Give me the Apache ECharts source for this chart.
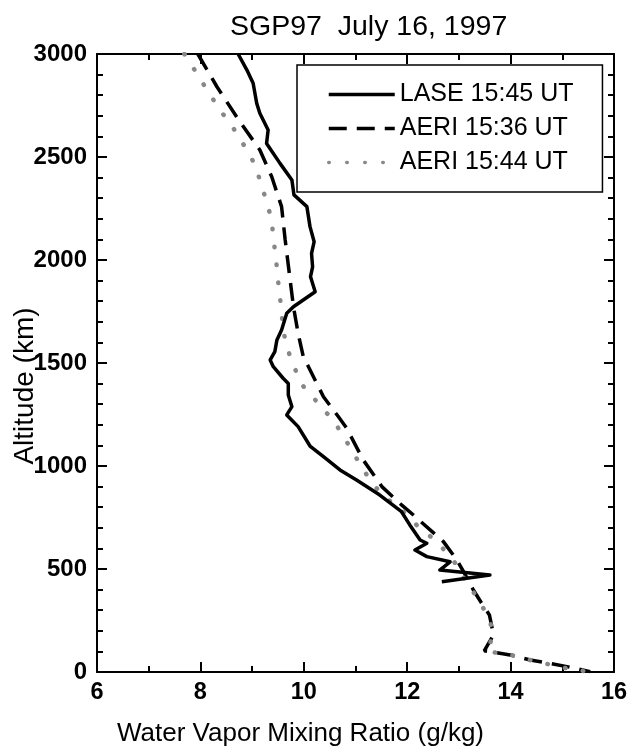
<!DOCTYPE html>
<html>
<head>
<meta charset="utf-8">
<script src="https://cdn.jsdelivr.net/npm/echarts@6/dist/echarts.min.js"></script>
<style>
html, body { margin: 0; padding: 0; background: #fff; }
#main { width: 629px; height: 748px; }
</style>
</head>
<body>
<div id="main"></div>
<script>
// values: mixing ratio (g/kg) vs altitude
var laseX = [8.73, 8.90, 9.02, 9.09, 9.15, 9.31, 9.28, 9.54, 9.77, 9.81, 10.06, 10.12, 10.20, 10.15, 10.17, 10.13, 10.22, 9.80, 9.67, 9.57, 9.48, 9.44, 9.35, 9.41, 9.60, 9.70, 9.70, 9.77, 9.67, 9.89, 10.12, 10.38, 10.70, 11.02, 11.47, 11.89, 12.05, 12.25, 12.38, 12.15, 12.38, 12.83, 12.63, 13.60, 12.67];
var laseAlt = [3000, 2922, 2858, 2760, 2712, 2631, 2566, 2469, 2388, 2316, 2259, 2162, 2089, 2032, 1967, 1919, 1846, 1773, 1741, 1660, 1612, 1555, 1515, 1482, 1426, 1401, 1345, 1288, 1248, 1191, 1097, 1045, 981, 932, 859, 778, 714, 641, 625, 592, 560, 535, 495, 471, 438];

var aeri36X = [7.95, 8.32, 8.70, 9.15, 9.38, 9.57, 9.64, 9.72, 9.80, 9.89, 9.99, 10.09, 10.38, 10.67, 10.83, 11.15, 11.51, 11.89, 12.12, 12.70, 12.96, 13.09, 13.28, 13.44, 13.59, 13.67, 13.49, 13.99, 14.38, 14.76, 15.15, 15.54];
var aeri36Alt = [3000, 2841, 2695, 2534, 2404, 2259, 2097, 1935, 1773, 1644, 1531, 1482, 1336, 1239, 1183, 1029, 900, 811, 762, 633, 544, 487, 398, 334, 277, 180, 103, 83, 58, 42, 23, 2];

var aeri44X = [7.69, 7.93, 8.15, 8.38, 8.64, 8.86, 9.06, 9.17, 9.28, 9.38, 9.41, 9.46, 9.49, 9.53, 9.57, 9.60, 9.68, 9.81, 9.97, 10.28, 10.59, 10.81, 11.02, 11.24, 11.51, 11.86, 12.18, 12.57, 12.89, 13.12, 13.34, 13.57, 13.67, 13.55, 14.00, 14.34, 15.06, 15.48];
var aeri44Alt = [3000, 2906, 2817, 2728, 2639, 2550, 2461, 2372, 2283, 2194, 2105, 2016, 1927, 1838, 1749, 1660, 1571, 1482, 1393, 1304, 1215, 1126, 1037, 948, 859, 795, 714, 633, 544, 447, 366, 268, 188, 100, 83, 60, 19, 2];

var seriesNames = ['LASE 15:45 UT', 'AERI 15:36 UT', 'AERI 15:44 UT'];

function pairs(xs, ys) {
    var out = [];
    for (var i = 0; i < xs.length; i++) out.push([xs[i], ys[i]]);
    return out;
}

var font = 'Liberation Sans, Arial, sans-serif';
var tickLine = { color: '#000', width: 2 };

var myChart = echarts.init(document.getElementById('main'));
var option = {
    animation: false,
    backgroundColor: '#fff',
    title: {
        text: 'SGP97  July 16, 1997',
        left: 225,
        top: 8,
        textStyle: { fontFamily: font, fontSize: 28.5, fontWeight: 'normal', color: '#000' }
    },
    legend: {
        orient: 'vertical',
        left: 297,
        top: 65,
        padding: [17, 29, 17, 30],
        itemWidth: 66,
        itemHeight: 25,
        itemGap: 9,
        borderColor: '#000',
        borderWidth: 1.5,
        borderRadius: 0,
        backgroundColor: '#fff',
        itemStyle: { opacity: 0 },
        lineStyle: { width: 3.5 },
        textStyle: { fontFamily: font, fontSize: 25, color: '#000' },
        data: seriesNames
    },
    grid: {
        left: 97,
        right: 15,
        top: 54,
        bottom: 76,
        containLabel: false,
        outerBoundsMode: 'none'
    },
    xAxis: [{
        type: 'value',
        min: 6,
        max: 16,
        interval: 2,
        name: 'Water Vapor Mixing Ratio (g/kg)',
        nameLocation: 'middle',
        nameGap: 49,
        nameMoveOverlap: false,
        nameTextStyle: { fontFamily: font, fontSize: 26, color: '#000', padding: [0, 110, 0, 0] },
        axisLine: { onZero: false, lineStyle: tickLine },
        axisTick: { inside: true, length: 10, lineStyle: tickLine },
        minorTick: { show: true, splitNumber: 2, length: 6, lineStyle: tickLine },
        axisLabel: { fontFamily: font, fontSize: 23.5, fontWeight: 'bold', color: '#000', margin: 9 },
        splitLine: { show: false }
    }, {
        type: 'value',
        position: 'top',
        min: 6,
        max: 16,
        interval: 2,
        axisLine: { onZero: false, lineStyle: tickLine },
        axisTick: { inside: true, length: 10, lineStyle: tickLine },
        minorTick: { show: true, splitNumber: 2, length: 6, lineStyle: tickLine },
        axisLabel: { show: false },
        splitLine: { show: false }
    }],
    yAxis: [{
        type: 'value',
        min: 0,
        max: 3000,
        interval: 500,
        name: 'Altitude (km)',
        nameLocation: 'middle',
        nameRotate: 90,
        nameGap: 58,
        nameMoveOverlap: false,
        nameTextStyle: { fontFamily: font, fontSize: 28, color: '#000', padding: [0, 46, 0, 0] },
        axisLine: { onZero: false, lineStyle: tickLine },
        axisTick: { inside: true, length: 10, lineStyle: tickLine },
        minorTick: { show: true, splitNumber: 5, length: 6, lineStyle: tickLine },
        axisLabel: {
            fontFamily: font, fontSize: 24, fontWeight: 'bold', color: '#000', margin: 10,
            formatter: function (v) { return String(v); }
        },
        splitLine: { show: false }
    }, {
        type: 'value',
        position: 'right',
        min: 0,
        max: 3000,
        interval: 500,
        axisLine: { show: true, onZero: false, lineStyle: tickLine },
        axisTick: { show: true, inside: true, length: 10, lineStyle: tickLine },
        minorTick: { show: true, splitNumber: 5, length: 6, lineStyle: tickLine },
        axisLabel: { show: false },
        splitLine: { show: false }
    }],
    series: [
        {
            name: seriesNames[0],
            type: 'line',
            symbol: 'none',
            data: pairs(laseX, laseAlt),
            lineStyle: { color: '#000', width: 3.5, join: 'round' },
            itemStyle: { color: '#000' },
            z: 4
        },
        {
            name: seriesNames[1],
            type: 'line',
            symbol: 'none',
            data: pairs(aeri36X, aeri36Alt),
            lineStyle: { color: '#000', width: 3.5, type: [18, 10] },
            itemStyle: { color: '#000' },
            z: 2
        },
        {
            name: seriesNames[2],
            type: 'line',
            symbol: 'none',
            data: pairs(aeri44X, aeri44Alt),
            lineStyle: { color: '#888', width: 4.5, type: [0.5, 17.5], cap: 'round' },
            itemStyle: { color: '#888' },
            z: 3
        }
    ]
};
myChart.setOption(option);
</script>
</body>
</html>
